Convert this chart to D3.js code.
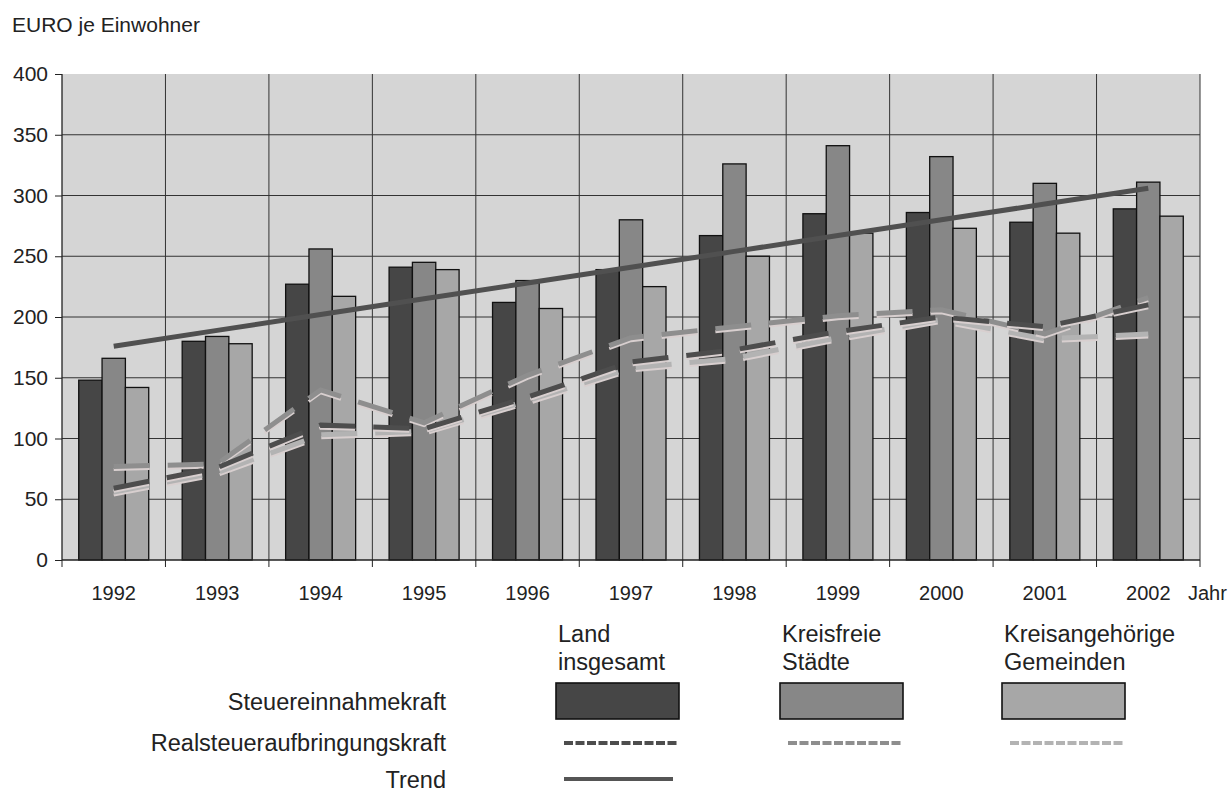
<!DOCTYPE html>
<html lang="de">
<head>
<meta charset="UTF-8" />
<title>Steuereinnahmekraft je Einwohner</title>
<script src="https://d3js.org/d3.v7.min.js"></script>
<style>
  body { margin: 0; background: #fff; }
  svg { font-family: "Liberation Sans", Arial, sans-serif; }
</style>
</head>
<body>
<svg id="chart" width="1228" height="792"></svg>
<script>
// Daten (EURO je Einwohner)
const jahre = ['1992','1993','1994','1995','1996','1997','1998','1999','2000','2001','2002'];
const gruppen = ['Land insgesamt', 'Kreisfreie Städte', 'Kreisangehörige Gemeinden'];

const steuerLand = [148, 180, 227, 241, 212, 239, 267, 285, 286, 278, 289];
const steuerKfS  = [166, 184, 256, 245, 230, 280, 326, 341, 332, 310, 311];
const steuerKaG  = [142, 178, 217, 239, 207, 225, 250, 269, 273, 269, 283];

const realLand = [59, 76, 111, 108, 134, 163, 173, 188, 200, 192, 210];
const realKfS  = [77, 79, 140, 113, 152, 183, 192, 201, 206, 186, 216];
const realKaG  = [56, 72, 103, 106, 131, 158, 166, 183, 198, 182, 186];

const trend = [176, 189, 202, 215, 228, 241, 254, 267, 280, 293, 306];

const yTicks = [0, 50, 100, 150, 200, 250, 300, 350, 400];

const farbenBalken = ['#464646', '#878787', '#a7a7a7'];
const farbenLinie  = ['#4d4d4d', '#8e8e8e', '#b3b3b3'];

const svg = d3.select('#chart');
const pLeft = 62, pRight = 1200, pTop = 74, pBottom = 560;

const x = d3.scaleBand().domain(jahre).range([pLeft, pRight]).padding(0);
const y = d3.scaleLinear().domain([0, 400]).range([pBottom, pTop]);
const groupW = 70;
const x1 = d3.scaleBand().domain(gruppen).range([0, groupW]);
const off = (x.bandwidth() - groupW) / 2;

// Hintergrund der Zeichenfläche
svg.append('rect').attr('x', pLeft).attr('y', pTop)
  .attr('width', pRight - pLeft).attr('height', pBottom - pTop)
  .attr('fill', '#d5d5d5');

// Gitterlinien
svg.append('g').selectAll('line').data(yTicks.slice(1, -1)).join('line')
  .attr('x1', pLeft).attr('x2', pRight)
  .attr('y1', d => y(d)).attr('y2', d => y(d))
  .attr('stroke', '#333').attr('stroke-width', 1);
const grenzen = jahre.slice(1).map(j => x(j)).concat([pRight]);
svg.append('g').selectAll('line').data(grenzen).join('line')
  .attr('x1', d => d).attr('x2', d => d)
  .attr('y1', pTop).attr('y2', pBottom)
  .attr('stroke', '#333').attr('stroke-width', 1);

// Balken
const reihen = [steuerLand, steuerKfS, steuerKaG];
reihen.forEach((werte, k) => {
  svg.append('g').selectAll('rect').data(werte).join('rect')
    .attr('x', (d, i) => x(jahre[i]) + off + x1(gruppen[k]))
    .attr('y', d => y(d))
    .attr('width', x1.bandwidth())
    .attr('height', d => y(0) - y(d))
    .attr('fill', farbenBalken[k])
    .attr('stroke', '#111').attr('stroke-width', 1.3);
});

// Linien
const linie = d3.line()
  .x((d, i) => x(jahre[i]) + x.bandwidth() / 2)
  .y(d => y(d));

const realReihen = [realKaG, realKfS, realLand];
const realFarben = [farbenLinie[2], farbenLinie[1], farbenLinie[0]];
realReihen.forEach((werte, k) => {
  svg.append('path').datum(werte)
    .attr('d', linie).attr('fill', 'none')
    .attr('transform', 'translate(0,3)')
    .attr('stroke', '#d8cfcf').attr('stroke-width', 3)
    .attr('stroke-dasharray', '36,18');
  svg.append('path').datum(werte)
    .attr('d', linie).attr('fill', 'none')
    .attr('stroke', realFarben[k]).attr('stroke-width', 5)
    .attr('stroke-dasharray', '36,18');
});

svg.append('path').datum(trend)
  .attr('d', linie).attr('fill', 'none')
  .attr('stroke', '#505050').attr('stroke-width', 5);

// Achsen
svg.append('line').attr('x1', pLeft).attr('x2', pLeft).attr('y1', pTop).attr('y2', pBottom)
  .attr('stroke', '#222').attr('stroke-width', 1.3);
svg.append('line').attr('x1', pLeft).attr('x2', pRight).attr('y1', pBottom).attr('y2', pBottom)
  .attr('stroke', '#222').attr('stroke-width', 1.3);

const yAxis = svg.append('g').attr('transform', `translate(${pLeft},0)`)
  .call(d3.axisLeft(y).tickValues(yTicks).tickSize(7).tickPadding(7));
yAxis.select('.domain').remove();
yAxis.selectAll('text').attr('font-size', 21).attr('fill', '#222')
  .attr('font-family', '"Liberation Sans", Arial, sans-serif');
yAxis.selectAll('line').attr('stroke', '#222');

svg.append('g').selectAll('line').data([pLeft].concat(grenzen)).join('line')
  .attr('x1', d => d).attr('x2', d => d)
  .attr('y1', pBottom).attr('y2', pBottom + 7)
  .attr('stroke', '#222');

svg.append('g').selectAll('text').data(jahre).join('text')
  .attr('x', d => x(d) + x.bandwidth() / 2)
  .attr('y', 600)
  .attr('text-anchor', 'middle')
  .attr('font-size', 20).attr('fill', '#222')
  .text(d => d);

svg.append('text').attr('x', 1188).attr('y', 600)
  .attr('font-size', 20).attr('fill', '#222').text('Jahr');

svg.append('text').attr('x', 12).attr('y', 32)
  .attr('font-size', 21).attr('fill', '#222').text('EURO je Einwohner');

// Legende
const legX = [556, 780, 1002];
const kopf = [['Land', 'insgesamt'], ['Kreisfreie', 'Städte'], ['Kreisangehörige', 'Gemeinden']];
kopf.forEach((zeilen, k) => {
  zeilen.forEach((t, j) => {
    svg.append('text').attr('x', legX[k] + 2).attr('y', 642 + j * 28)
      .attr('font-size', 23.5).attr('fill', '#222').text(t);
  });
  svg.append('rect').attr('x', legX[k]).attr('y', 683)
    .attr('width', 123).attr('height', 36)
    .attr('fill', farbenBalken[k]).attr('stroke', '#111').attr('stroke-width', 1.6);
  svg.append('line').attr('x1', legX[k] + 8).attr('x2', legX[k] + 122)
    .attr('y1', 743).attr('y2', 743)
    .attr('stroke', farbenLinie[k]).attr('stroke-width', 4)
    .attr('stroke-dasharray', '9,2.5');
});
svg.append('line').attr('x1', 564).attr('x2', 673)
  .attr('y1', 779).attr('y2', 779)
  .attr('stroke', '#555').attr('stroke-width', 4);

const zeilenText = ['Steuereinnahmekraft', 'Realsteueraufbringungskraft', 'Trend'];
const zeilenY = [710, 751, 788];
zeilenText.forEach((t, j) => {
  svg.append('text').attr('x', 446).attr('y', zeilenY[j])
    .attr('text-anchor', 'end')
    .attr('font-size', 23.5).attr('fill', '#222').text(t);
});
</script>
</body>
</html>
